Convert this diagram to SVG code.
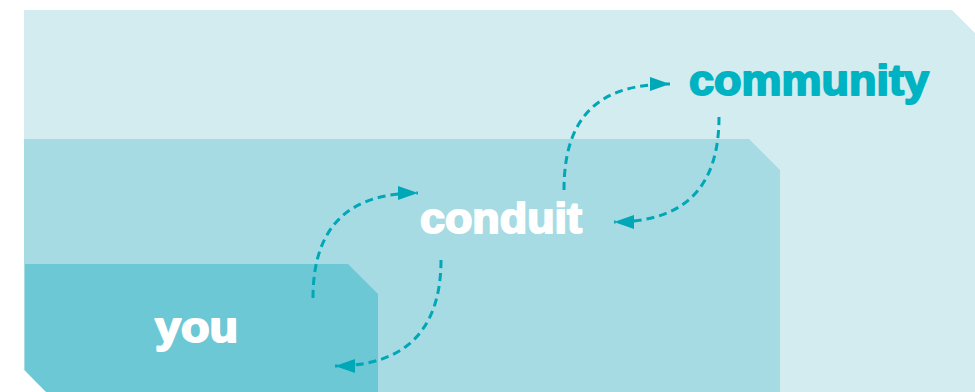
<svg xmlns="http://www.w3.org/2000/svg" width="975" height="392" viewBox="0 0 975 392">
  <style>
    .lbl { font-family: "Liberation Sans", Arial, sans-serif; font-weight: bold; font-size: 43px; stroke-width: 2; stroke-linejoin: round; }
    .white { fill: #ffffff; stroke: #ffffff; }
    .teal { fill: #00B3C3; stroke: #00B3C3; }
    .conn { fill: none; stroke: #00A7B7; stroke-width: 3; stroke-dasharray: 8 5; }
  </style>
  <defs>
    <marker id="arrow" markerUnits="userSpaceOnUse" markerWidth="22" markerHeight="16" refX="20" refY="7" orient="auto">
      <path d="M0,0 L20,7 L0,14 Z" fill="#00A7B7"/>
    </marker>
  </defs>
  <rect x="0" y="0" width="975" height="392" fill="#ffffff"/>
  <g id="community">
    <path d="M24,10 L952,10 L1000,58 L1000,420 L24,420 L24,370 Z" fill="#D3ECF0"/>
    <text class="lbl teal" x="689" y="95" textLength="240" lengthAdjust="spacingAndGlyphs">community</text>
  </g>
  <g id="conduit">
    <path d="M24,139 L749,139 L780,170 L780,420 L24,420 L24,370 Z" fill="#A6DBE3"/>
    <text class="lbl white" x="420" y="233" textLength="162" lengthAdjust="spacingAndGlyphs">conduit</text>
  </g>
  <g id="you">
    <path d="M25,264 L348,264 L378,294 L378,420 L70,420 L25,370 Z" fill="#6CC8D5"/>
    <path d="M24,370 L46,392 L0,392 L0,370 Z" fill="#ffffff"/>
    <text class="lbl white" x="155" y="342" textLength="83" lengthAdjust="spacingAndGlyphs">you</text>
  </g>
  <g id="connectors">
    <path class="conn" d="M313,298 C313,225 350,193 418,193" marker-end="url(#arrow)"/>
    <path class="conn" d="M441,260 C441,335 400,366 335,366" marker-end="url(#arrow)"/>
    <path class="conn" d="M564,190 C564,115 600,84 670,84" marker-end="url(#arrow)"/>
    <path class="conn" d="M719,117 C719,192 680,222 614,222" marker-end="url(#arrow)"/>
  </g>
</svg>
